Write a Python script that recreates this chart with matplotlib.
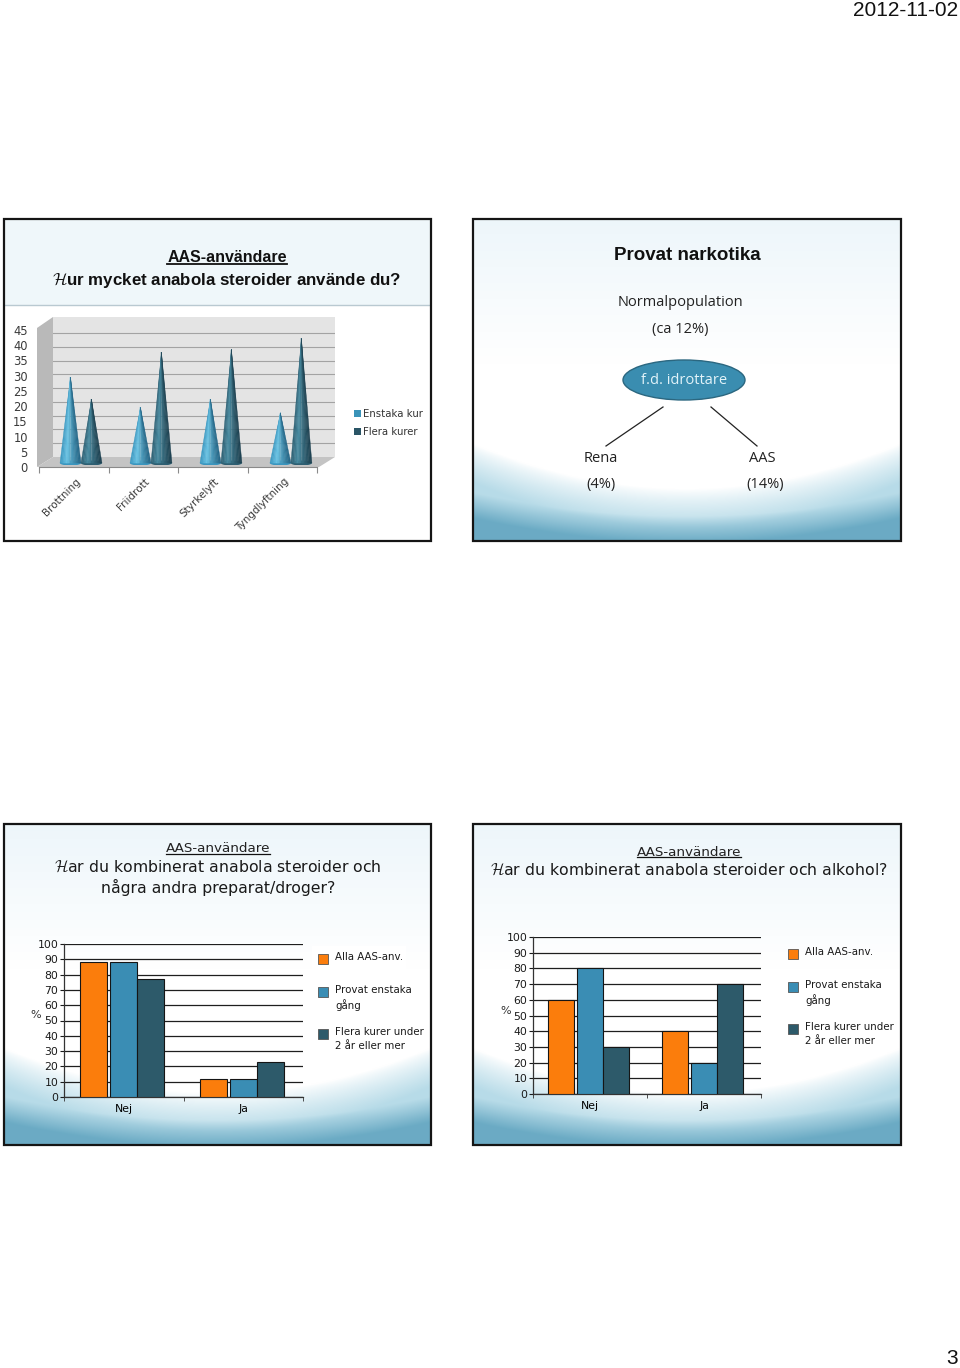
import numpy as np
import matplotlib
matplotlib.use("Agg")
import matplotlib.pyplot as plt
from matplotlib.patches import Rectangle, Polygon, Ellipse
from matplotlib.lines import Line2D
from matplotlib.transforms import Affine2D
from matplotlib.colors import to_rgb

W, H = 960, 1368

# --- data -------------------------------------------------------------
sport = ["Brottning", "Friidrott", "Styrkelyft", "Tyngdlyftning"]
kur_serier = ["Enstaka kur", "Flera kurer"]
enstaka_kur = [29, 18, 21, 16]
flera_kurer = [21, 38, 39, 43]

svar = ["Nej", "Ja"]
grupper = ["Alla AAS-anv.", "Provat enstaka\ngång", "Flera kurer under\n2 år eller mer"]
droger_alla = [88, 12]
droger_enstaka = [88, 12]
droger_flera = [77, 23]
alkohol_alla = [60, 40]
alkohol_enstaka = [80, 20]
alkohol_flera = [30, 70]

bar_colors = ["#fb7d0c", "#3a8db4", "#2d5a6a"]
# (dark edge, highlight, main) per cone series
cone_colors = [("#226485", "#6cc6e6", "#3a96bf"), ("#1c3f4e", "#4a8ea4", "#2e5f72")]

plt.rcParams["font.family"] = ["DejaVu Sans"]
fig = plt.figure(figsize=(W / 100, H / 100), dpi=100)
fig.patch.set_facecolor("white")
px = Affine2D().scale(1 / W, -1 / H).translate(0, 1) + fig.transFigure


def px_axes(x, y, w, h, **kw):
    return fig.add_axes([x / W, 1 - (y + h) / H, w / W, h / H], **kw)


def ftext(x, y, s, **kw):
    kw.setdefault("ha", "center")
    kw.setdefault("va", "center")
    return fig.text(x / W, 1 - y / H, s, **kw)


def panel(x0, y0, x1, y1, wave=True):
    ax = px_axes(x0, y0, x1 - x0, y1 - y0)
    ax.set_axis_off()
    n = 300
    U, V = np.meshgrid(np.linspace(0, 1, n), np.linspace(0, 1, n))
    img = np.ones((n, n, 3))
    if wave:
        top = (np.clip(1 - V / 0.45, 0, 1) * 0.7)[..., None]
        img = img * (1 - top) + np.array([0.90, 0.95, 0.975]) * top
        e1 = 0.84 - 0.56 * (U - 0.5) ** 2
        s1 = (np.clip((V - e1) / 0.12, 0, 1) ** 0.8)[..., None]
        img = img * (1 - s1) + np.array([0.72, 0.86, 0.91]) * s1
        e2 = 0.925 - 0.30 * (U - 0.5) ** 2
        s2 = np.clip((V - e2) / 0.08, 0, 1)[..., None]
        img = img * (1 - s2) + np.array([0.42, 0.67, 0.77]) * s2
    ax.imshow(img, extent=(0, 1, 0, 1), aspect="auto", origin="upper")
    ax.set_xlim(0, 1)
    ax.set_ylim(0, 1)
    ax.add_patch(Rectangle((0, 0), 1, 1, transform=ax.transAxes, fill=False,
                           lw=1.6, ec="#151515", clip_on=False, zorder=5))
    return ax


def legend_box(x, y, labels, colors, steps):
    for lab, c, dy in zip(labels, colors, steps):
        fig.add_artist(Rectangle((x, y + dy - 5), 10, 10, transform=px,
                                 fc=c, ec="#555", lw=0.6))
        ftext(x + 17, y + dy - 7, lab, ha="left", va="top", fontsize=7.4,
              color="#1a1a1a", linespacing=1.45)


def bar_chart(rect, alla, enstaka, flera, ylab_x):
    ax = px_axes(*rect)
    ax.patch.set_visible(False)
    x = np.arange(len(svar)) + 0.5
    w = 0.226
    for off, vals, c in zip([-0.252, 0.0, 0.226], [alla, enstaka, flera], bar_colors):
        ax.bar(x + off, vals, w, color=c, edgecolor="#151515", lw=0.8, zorder=3)
    ax.set_xlim(0, len(svar))
    ax.set_ylim(0, 100)
    ax.set_yticks(range(0, 101, 10))
    ax.yaxis.grid(True, color="#1e1e1e", lw=0.9)
    ax.set_axisbelow(True)
    ax.set_xticks(x, svar)
    ax.set_xticks(np.arange(len(svar) + 1), minor=True)
    ax.tick_params(axis="x", which="major", length=0, pad=5, labelsize=7.8)
    ax.tick_params(axis="x", which="minor", length=3, color="#333")
    ax.tick_params(axis="y", length=3, labelsize=7.8, pad=1, colors="#1a1a1a")
    for s in ["top", "right"]:
        ax.spines[s].set_visible(False)
    for s in ["left", "bottom"]:
        ax.spines[s].set_color("#333")
        ax.spines[s].set_linewidth(0.9)
    ax.set_ylabel("%", rotation=0, fontsize=8, color="#333")
    ax.yaxis.set_label_coords(ylab_x, 0.5)
    return ax


# --- page header / footer ----------------------------------------------
ftext(958, 11, "2012-11-02", ha="right", fontsize=15, family="Liberation Sans", color="#111")
ftext(958, 1358, "3", ha="right", fontsize=15, family="Liberation Sans", color="#111")

# --- panel 1: cones -----------------------------------------------------
p1 = panel(4, 219, 431, 541, wave=False)
p1.add_patch(Rectangle((0, 0.733), 1, 0.267, fc="#eff7fa", ec="none", zorder=1))
p1.axhline(0.733, color="#b9c9d1", lw=1, zorder=2)
t1 = ftext(227, 258, "AAS-användare", fontsize=11.5, fontweight="bold",
           family="Liberation Sans", color="#111")
ftext(227, 280, r"$\mathcal{H}$ur mycket anabola steroider använde du?", fontsize=12.2,
      fontweight="bold", family="Liberation Sans", color="#111", math_fontfamily="cm")

wall = px_axes(53, 317, 282, 148)
wall.set_axis_off()
wall.set_xlim(-0.4, 3.63)
wall.set_ylim(-2.9, 50.8)
wall.add_patch(Rectangle((-0.4, 0), 4.03, 50.8, fc="#e4e4e4", ec="none", zorder=0))
for yv in range(5, 50, 5):
    wall.plot([-0.4, 3.63], [yv, yv], color="#a3a3a3", lw=0.8, zorder=1)
wall.add_patch(Polygon([(37, 328), (53, 317), (53, 457), (37, 467)], closed=True,
                       transform=px, fc="#b9b9b9", ec="none", clip_on=False, zorder=0))
wall.add_patch(Polygon([(37, 467), (53, 457), (335, 457), (319, 467)], closed=True,
                       transform=px, fc="#c4c4c4", ec="none", clip_on=False, zorder=0))
base = -2.2
hw = 0.15
nstrip = 14
for j, vals in enumerate([enstaka_kur, flera_kurer]):
    c_dark, c_hi, c_main = (np.array(to_rgb(c)) for c in cone_colors[j])
    for i, v in enumerate(vals):
        xc = i + (-0.15 if j == 0 else 0.15)
        wall.add_patch(Ellipse((xc, base), 2 * hw, 1.8, fc=c_main, ec="none", zorder=2))
        edges = np.linspace(xc - hw, xc + hw, nstrip + 1)
        for k in range(nstrip):
            f = (k + 0.5) / nstrip
            if f < 0.35:
                col = c_main + (c_hi - c_main) * (f / 0.35)
            else:
                col = c_hi + (c_dark - c_hi) * ((f - 0.35) / 0.65) ** 0.8
            col = tuple(np.clip(col, 0, 1))
            wall.fill([edges[k], edges[k + 1], xc], [base, base, v],
                      color=col, lw=0.3, ec=col, zorder=3)

front = px_axes(39, 330, 278, 137)
front.patch.set_visible(False)
front.set_xlim(0, len(sport))
front.set_ylim(0, 45)
front.set_yticks(range(0, 46, 5))
front.tick_params(axis="y", length=0, pad=8, labelsize=8.3, colors="#3a3a3a")
front.set_xticks(range(len(sport) + 1), [""] * (len(sport) + 1))
front.tick_params(axis="x", length=4, color="#8a8a8a")
for s in ["top", "right", "left"]:
    front.spines[s].set_visible(False)
front.spines["bottom"].set_color("#8a8a8a")
for i, name in enumerate(sport):
    front.text(i + 0.52, -0.07, name, transform=front.get_xaxis_transform(),
               rotation=45, rotation_mode="anchor", ha="right", va="top",
               fontsize=7.5, color="#3a3a3a")
for k, (lab, c) in enumerate(zip(kur_serier, ["#3a93b8", "#2a5566"])):
    fig.add_artist(Rectangle((354, 410 + 18 * k), 7, 7, transform=px, fc=c, ec="none"))
    ftext(363, 414 + 18 * k, lab, ha="left", fontsize=7.3, color="#333")

# --- panel 2: diagram ---------------------------------------------------
p2 = panel(473, 219, 901, 541)
ftext(687, 256, "Provat narkotika", fontsize=13.5, fontweight="bold",
      family="Liberation Sans", color="#111")
txt = dict(fontsize=10.5, family="Open Sans", color="#222")
ftext(680, 303, "Normalpopulation", **txt)
ftext(680, 329, "(ca 12%)", **txt)
fig.add_artist(Ellipse((684, 380), 122, 40, transform=px, fc="#3a8db0", ec="#2b6780", lw=1))
ftext(684, 380, "f.d. idrottare", fontsize=10.5, family="Open Sans", color="#e2f3f9")
fig.add_artist(Line2D([663, 606], [407, 446], transform=px, color="#222", lw=0.9))
fig.add_artist(Line2D([711, 757], [407, 446], transform=px, color="#222", lw=0.9))
ftext(601, 458, "Rena", **txt)
ftext(601, 484, "(4%)", **txt)
ftext(762, 458, "AAS", **txt)
ftext(765, 484, "(14%)", **txt)

# --- panel 3: andra droger ----------------------------------------------
p3 = panel(4, 824, 431, 1145)
t3 = ftext(218, 849, "AAS-användare", fontsize=9.7, color="#222")
ftext(218, 867, r"$\mathcal{H}$ar du kombinerat anabola steroider och", fontsize=11.3,
      color="#1a1a1a", math_fontfamily="cm")
ftext(218, 887, "några andra preparat/droger?", fontsize=11.3, color="#1a1a1a")
fig.add_artist(Rectangle((312, 946), 94, 112, transform=px, fc="white", ec="none"))
bar_chart((64, 944, 239, 153), droger_alla, droger_enstaka, droger_flera, -0.12)
legend_box(318, 959, grupper, bar_colors, [0, 33, 75])

# --- panel 4: alkohol ---------------------------------------------------
p4 = panel(473, 824, 901, 1145)
t4 = ftext(689, 852, "AAS-användare", fontsize=9.7, color="#222")
ftext(689, 870, r"$\mathcal{H}$ar du kombinerat anabola steroider och alkohol?", fontsize=11.3,
      color="#1a1a1a", math_fontfamily="cm")
bar_chart((533, 937, 228, 157), alkohol_alla, alkohol_enstaka, alkohol_flera, -0.118)
legend_box(788, 954, grupper, bar_colors, [0, 33, 75])

# underline the "AAS-användare" headings
fig.canvas.draw()
r = fig.canvas.get_renderer()
for t, lw in [(t1, 1.3), (t3, 0.9), (t4, 0.9)]:
    bb = t.get_window_extent(r)
    yy = (bb.y0 + 1.5) / H
    fig.add_artist(Line2D([bb.x0 / W, bb.x1 / W], [yy, yy], transform=fig.transFigure,
                          color="#111", lw=lw))

fig.savefig("out.png", dpi=100)
